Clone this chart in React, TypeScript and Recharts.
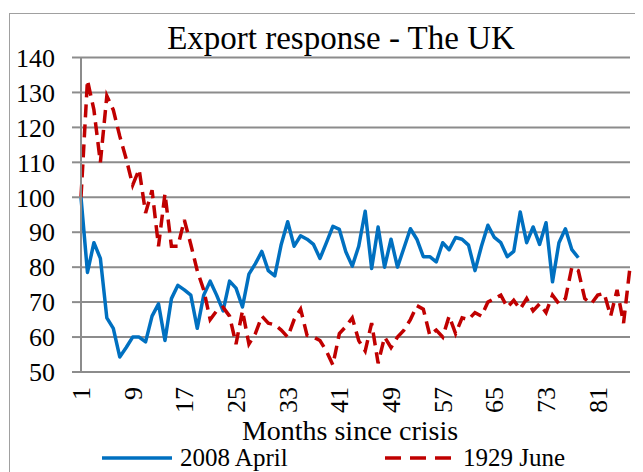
import React from "react";
import { LineChart, Line, XAxis, YAxis, CartesianGrid } from "recharts";

const months = [
  1, 2, 3, 4, 5, 6, 7, 8, 9, 10, 11, 12, 13, 14, 15, 16, 17, 18, 19, 20,
  21, 22, 23, 24, 25, 26, 27, 28, 29, 30, 31, 32, 33, 34, 35, 36, 37, 38, 39, 40,
  41, 42, 43, 44, 45, 46, 47, 48, 49, 50, 51, 52, 53, 54, 55, 56, 57, 58, 59, 60,
  61, 62, 63, 64, 65, 66, 67, 68, 69, 70, 71, 72, 73, 74, 75, 76, 77, 78, 79, 80,
  81, 82, 83, 84, 85, 86,
];

const april2008 = [
  100, 78.5, 87, 82.5, 65.5, 62.5, 54.3, 57, 60, 60,
  58.6, 66, 69.5, 59, 71, 74.8, 73.5, 72, 62.5, 72,
  76, 72, 67.5, 76, 74, 68.6, 78, 81, 84.5, 79,
  77.5, 86.5, 93, 86, 89, 88, 86.5, 82.5, 87, 91.7,
  90.8, 84.4, 80.3, 86, 96, 79.6, 91.5, 80, 88, 80,
  85.5, 91, 88, 83, 83, 81.5, 87, 85, 88.5, 88,
  86.3, 79, 86, 92, 88.5, 87, 83, 84.5, 95.8, 87,
  91.5, 86.5, 92.7, 75.8, 87, 91, 85, 82.7,
];

const june1929 = [
  100, 133.5, 125, 110, 129, 125, 117.5, 111, 103.5, 108,
  95.5, 102, 86, 101, 86, 86, 93.5, 86.5, 79, 73.5,
  65, 67.5, 68.5, 66, 58, 67.5, 58, 61, 66, 64,
  63.5, 62, 60, 65, 68, 60.5, 60, 59, 56, 52,
  61, 63, 65.5, 59, 56, 64, 52.5, 60, 57, 60,
  62, 65, 69, 68, 60.5, 62, 60, 66, 61, 65.5,
  65, 67, 66, 70, 71, 72, 68.5, 70.5, 68, 71,
  67.5, 69.5, 67, 72, 69.5, 71, 80, 79, 71, 69.5,
  72, 72.5, 66, 73.5, 64, 80,
];

const yTicks = [50, 60, 70, 80, 90, 100, 110, 120, 130, 140];

const seriesNames = ["2008 April", "1929 June"];
const seriesColors = ["#0070C0", "#C00000"];
const titleText = "Export response - The UK";
const xTitle = "Months since crisis";

const data = months.map((m, i) => ({
  month: m,
  a: i < april2008.length ? april2008[i] : null,
  b: i < june1929.length ? june1929[i] : null,
}));

const FONT = "'Liberation Serif', 'Times New Roman', serif";
const GRID = "#8c8c8c";

const XTick = (props: any) => {
  const { x, y, payload } = props;
  return (
    <text
      x={0}
      y={0}
      transform={`translate(${x},${y + 7}) rotate(-90)`}
      textAnchor="end"
      dy="0.35em"
      fontSize={26}
      fontFamily={FONT}
      fill="#000"
    >
      {payload.value}
    </text>
  );
};

export default function App() {
  return (
    <div
      style={{
        position: "relative",
        width: 628,
        height: 470,
        marginLeft: 1,
        marginTop: 5,
        border: "1px solid #a0a0a0",
        background: "#fff",
      }}
    >
      <div
        style={{
          position: "absolute",
          left: 81,
          width: 500,
          top: 8,
          textAlign: "center",
          fontFamily: FONT,
          fontSize: 33,
          lineHeight: 1,
          color: "#000",
          whiteSpace: "nowrap",
        }}
      >
        {titleText}
      </div>
      <LineChart
        width={628}
        height={470}
        data={data}
        margin={{ top: 43.5, right: 8, left: 11, bottom: 72 }}
      >
        <CartesianGrid vertical={false} stroke={GRID} strokeWidth={2} />
        <XAxis
          dataKey="month"
          type="category"
          interval={7}
          height={40}
          tick={<XTick />}
          tickLine={false}
          axisLine={{ stroke: GRID, strokeWidth: 2 }}
        />
        <YAxis
          width={60}
          domain={[50, 140]}
          ticks={yTicks}
          interval={0}
          tickSize={9}
          tickMargin={17}
          tickLine={{ stroke: GRID, strokeWidth: 2 }}
          axisLine={{ stroke: GRID, strokeWidth: 2 }}
          tick={{ fontSize: 26, fontFamily: FONT, fill: "#000" }}
        />
        <Line
          dataKey="a"
          name={seriesNames[0]}
          stroke={seriesColors[0]}
          strokeWidth={3.5}
          dot={false}
          isAnimationActive={false}
          type="linear"
          strokeLinejoin="round"
        />
        <Line
          dataKey="b"
          name={seriesNames[1]}
          stroke={seriesColors[1]}
          strokeWidth={3.5}
          strokeDasharray="13 7"
          dot={false}
          isAnimationActive={false}
          type="linear"
        />
      </LineChart>
      <div
        style={{
          position: "absolute",
          left: 140,
          width: 400,
          top: 403,
          textAlign: "center",
          fontFamily: FONT,
          fontSize: 28,
          lineHeight: 1,
          color: "#000",
          whiteSpace: "nowrap",
        }}
      >
        {xTitle}
      </div>
      <svg
        width={628}
        height={30}
        style={{ position: "absolute", left: 0, top: 428 }}
      >
        <line x1={92} x2={162} y1={16} y2={16} stroke={seriesColors[0]} strokeWidth={3.5} />
        <text x={170} y={24} fontSize={25} fontFamily={FONT} fill="#000">
          {seriesNames[0]}
        </text>
        <line
          x1={375}
          x2={443}
          y1={16}
          y2={16}
          stroke={seriesColors[1]}
          strokeWidth={3.5}
          strokeDasharray="16 9"
        />
        <text x={453} y={24} fontSize={25} fontFamily={FONT} fill="#000">
          {seriesNames[1]}
        </text>
      </svg>
    </div>
  );
}
